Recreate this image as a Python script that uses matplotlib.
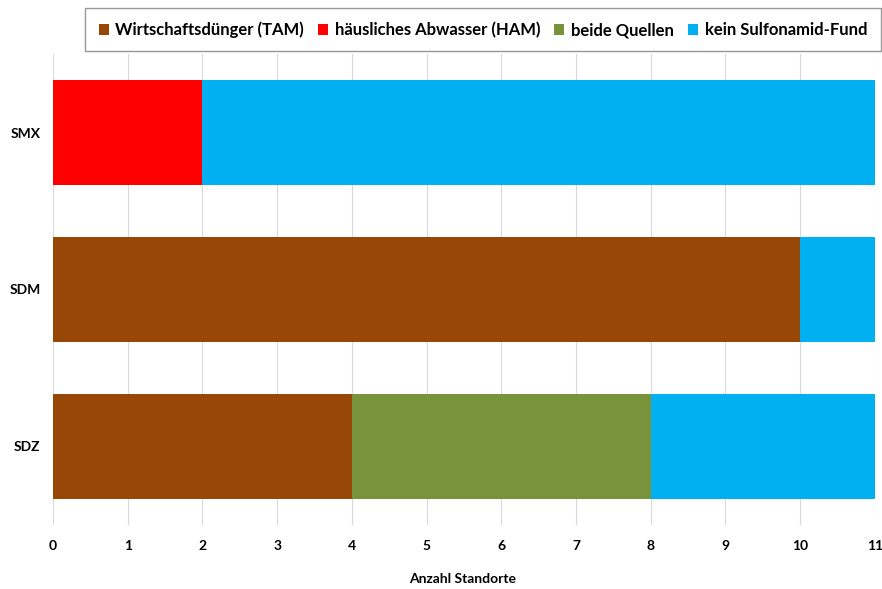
import matplotlib.pyplot as plt

plt.rcParams['font.family'] = ['Lato', 'DejaVu Sans']

categories = ['SDZ', 'SDM', 'SMX']
series = ['Wirtschaftsdünger (TAM)', 'häusliches Abwasser (HAM)', 'beide Quellen', 'kein Sulfonamid-Fund']
tam = [4, 10, 0]
ham = [0, 0, 2]
beide = [4, 0, 0]
kein = [3, 1, 9]
colors = ['#974706', '#ff0000', '#77933c', '#00b0f0']

fig = plt.figure(figsize=(8.82, 5.89), dpi=100)
ax = fig.add_axes([0.060, 0.109, 0.932, 0.799])

left = [0] * len(categories)
for name, vals, col in zip(series, [tam, ham, beide, kein], colors):
    ax.barh(categories, vals, left=left, height=0.67, color=col, label=name, zorder=2)
    left = [l + v for l, v in zip(left, vals)]

ax.set_xlim(0, 11)
ax.set_ylim(-0.5, 2.5)
ax.set_xticks(range(0, 12))
ax.grid(axis='x', color='#d9d9d9', linewidth=0.8, zorder=0)
for s in ax.spines.values():
    s.set_visible(False)
ax.tick_params(length=0, labelsize=10)
for lab in ax.get_xticklabels() + ax.get_yticklabels():
    lab.set_fontweight('bold')
ax.tick_params(axis='x', pad=11)
ax.tick_params(axis='y', pad=9)
fig.text(0.525, 0.006, 'Anzahl Standorte', ha='center', va='bottom', fontsize=10, fontweight='bold')

leg = fig.legend(loc='upper right', bbox_to_anchor=(0.9985, 0.986), borderaxespad=0, ncol=4,
                 frameon=True, fancybox=False, edgecolor='#7f7f7f', fontsize=12,
                 handlelength=0.6, handleheight=0.6, handletextpad=0.4, columnspacing=0.85,
                 borderpad=0.8)
leg.get_frame().set_linewidth(1.0)
for t in leg.get_texts():
    t.set_fontweight('bold')

fig.savefig('out.png', dpi=100)
